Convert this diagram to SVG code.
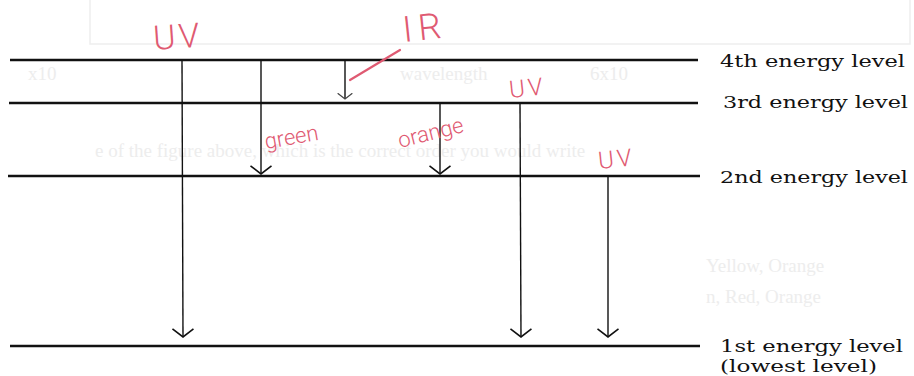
<svg xmlns="http://www.w3.org/2000/svg" width="914" height="376" viewBox="0 0 914 376">
  <style>
    .level { stroke: #111; stroke-width: 2.6; }
    .drop { stroke: #111; stroke-width: 1.4; fill: none; }
    .lbl { font-family: "DejaVu Serif", "Liberation Serif", serif; font-size: 17px; fill: #111; }
    .hand { font-family: Roboto, "Open Sans", "Liberation Sans", sans-serif; font-weight: 300; fill: #df5a72; }
    .ghost { font-family: "Liberation Serif", serif; font-size: 19px; fill: #ededed; }
  </style>
  <defs>
    <marker id="head" viewBox="0 0 10 24" refX="9.2" refY="12" markerWidth="10" markerHeight="24" markerUnits="userSpaceOnUse" orient="auto">
      <path d="M1,1.5 L9.2,12 L1,22.5" fill="none" stroke="#111" stroke-width="1.6"/>
    </marker>
    <marker id="headSmall" viewBox="0 0 10 24" refX="9.2" refY="12" markerWidth="7" markerHeight="18" markerUnits="userSpaceOnUse" orient="auto">
      <path d="M1,1.5 L9.2,12 L1,22.5" fill="none" stroke="#444" stroke-width="1.8"/>
    </marker>
  </defs>

  <rect width="914" height="376" fill="#ffffff"/>

  <!-- faint print from the page underneath -->
  <g id="page-ghost">
    <rect x="90" y="-2" width="820" height="46" fill="none" stroke="#eeeeee" stroke-width="1.5"/>
    <text class="ghost" x="28" y="80">x10</text>
    <text class="ghost" x="400" y="80">wavelength</text>
    <text class="ghost" x="590" y="80">6x10</text>
    <text class="ghost" x="95" y="157">e of the figure above, which is the correct order you would write</text>
    <text class="ghost" x="706" y="272">Yellow, Orange</text>
    <text class="ghost" x="706" y="303">n, Red, Orange</text>
  </g>

  <!-- energy levels -->
  <g id="level4">
    <line class="level" x1="10" y1="60" x2="698" y2="60"/>
    <text class="lbl" x="720" y="67" textLength="185" lengthAdjust="spacingAndGlyphs">4th energy level</text>
  </g>
  <g id="level3">
    <line class="level" x1="9" y1="103" x2="698" y2="103"/>
    <text class="lbl" x="723" y="108" textLength="185" lengthAdjust="spacingAndGlyphs">3rd energy level</text>
  </g>
  <g id="level2">
    <line class="level" x1="8" y1="176" x2="700" y2="176"/>
    <text class="lbl" x="720" y="183" textLength="188" lengthAdjust="spacingAndGlyphs">2nd energy level</text>
  </g>
  <g id="level1">
    <line class="level" x1="10" y1="346" x2="700" y2="346"/>
    <text class="lbl" x="720" y="352" textLength="183" lengthAdjust="spacingAndGlyphs">1st energy level</text>
    <text class="lbl" x="720" y="372" textLength="157" lengthAdjust="spacingAndGlyphs">(lowest level)</text>
  </g>

  <!-- transitions -->
  <g id="connectors">
    <line class="drop" x1="182" y1="60" x2="183" y2="337" marker-end="url(#head)"/>
    <line class="drop" x1="261" y1="60" x2="261" y2="174" marker-end="url(#head)"/>
    <line class="drop" x1="345" y1="60" x2="345" y2="99" marker-end="url(#headSmall)"/>
    <line class="drop" x1="440" y1="103" x2="440" y2="174" marker-end="url(#head)"/>
    <line class="drop" x1="520" y1="103" x2="521" y2="337" marker-end="url(#head)"/>
    <line class="drop" x1="608" y1="176" x2="608" y2="337" marker-end="url(#head)"/>
  </g>

  <!-- hand-written notes -->
  <g id="notes">
    <text class="hand" x="154" y="50" font-size="34" letter-spacing="3" transform="rotate(-4 154 50)">UV</text>
    <line x1="350" y1="80" x2="400" y2="50" stroke="#df5a72" stroke-width="2.2" stroke-linecap="round"/>
    <text class="hand" x="404" y="42" font-size="36" letter-spacing="6" transform="rotate(-6 404 42)">IR</text>
    <text class="hand" x="266" y="149" font-size="22" transform="rotate(-10 266 149)">green</text>
    <text class="hand" x="400" y="148" font-size="22" transform="rotate(-14 400 148)">orange</text>
    <text class="hand" x="510" y="98" font-size="24" letter-spacing="3" transform="rotate(-6 510 98)">UV</text>
    <text class="hand" x="599" y="169" font-size="24" letter-spacing="3" transform="rotate(-6 599 169)">UV</text>
  </g>
</svg>
